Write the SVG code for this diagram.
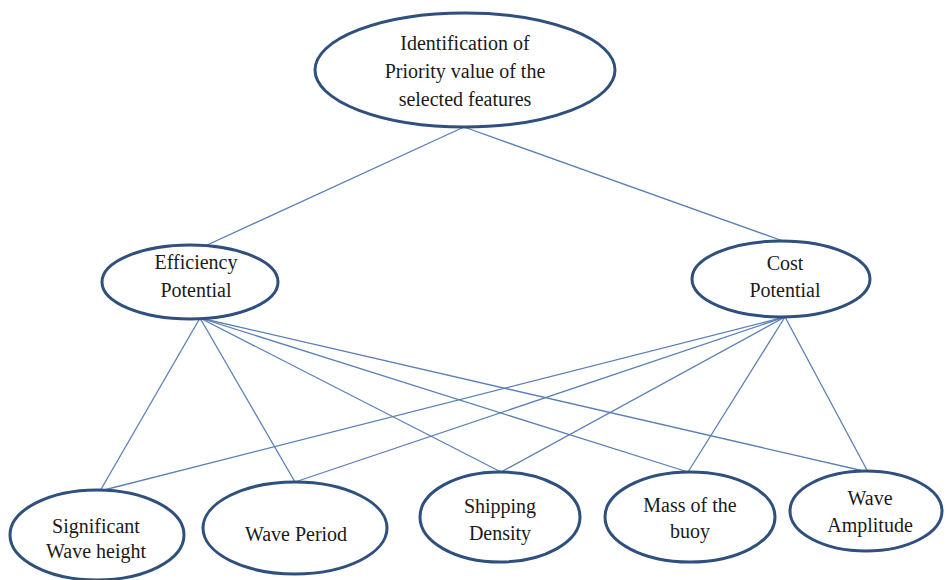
<svg xmlns="http://www.w3.org/2000/svg" width="947" height="580" viewBox="0 0 947 580">
<style>
.node ellipse{fill:#fff;stroke:#2f4f7f;stroke-width:3}
#connectors line{stroke:#5b7fb5;stroke-width:1.3}
</style>
<rect width="947" height="580" fill="#fff"/>
<g id="connectors">
<line x1="464" y1="127" x2="205" y2="246"/>
<line x1="464" y1="127" x2="783" y2="241"/>
<line x1="200" y1="318" x2="100" y2="491"/>
<line x1="200" y1="318" x2="295" y2="482"/>
<line x1="200" y1="318" x2="501" y2="472"/>
<line x1="200" y1="318" x2="688" y2="472"/>
<line x1="200" y1="318" x2="868" y2="472"/>
<line x1="785" y1="317" x2="100" y2="491"/>
<line x1="785" y1="317" x2="295" y2="482"/>
<line x1="785" y1="317" x2="501" y2="472"/>
<line x1="785" y1="317" x2="688" y2="472"/>
<line x1="785" y1="317" x2="868" y2="472"/>
</g>
<g font-family="Liberation Serif, serif" font-size="20" fill="#1a1a1a" text-anchor="middle">
<g id="n-top" class="node">
<ellipse cx="465" cy="70" rx="150" ry="57"/>
<text x="465" y="50">Identification of</text>
<text x="465" y="78">Priority value of the</text>
<text x="465" y="106">selected features</text>
</g>
<g id="n-eff" class="node">
<ellipse cx="190" cy="282" rx="88" ry="37"/>
<text x="196" y="269">Efficiency</text>
<text x="196" y="297">Potential</text>
</g>
<g id="n-cost" class="node">
<ellipse cx="781" cy="279" rx="89" ry="38"/>
<text x="785" y="270">Cost</text>
<text x="785" y="297">Potential</text>
</g>
<g id="n-swh" class="node">
<ellipse cx="97" cy="535" rx="87" ry="45"/>
<text x="96" y="533">Significant</text>
<text x="96" y="558">Wave height</text>
</g>
<g id="n-wp" class="node">
<ellipse cx="295" cy="528" rx="92" ry="46"/>
<text x="296" y="541">Wave Period</text>
</g>
<g id="n-sd" class="node">
<ellipse cx="500" cy="517" rx="80" ry="45"/>
<text x="500" y="513">Shipping</text>
<text x="500" y="540">Density</text>
</g>
<g id="n-mb" class="node">
<ellipse cx="690" cy="517" rx="85" ry="45"/>
<text x="690" y="512">Mass of the</text>
<text x="690" y="538">buoy</text>
</g>
<g id="n-wa" class="node">
<ellipse cx="866" cy="511" rx="76" ry="40"/>
<text x="870" y="505">Wave</text>
<text x="870" y="532">Amplitude</text>
</g>
</g>
</svg>
